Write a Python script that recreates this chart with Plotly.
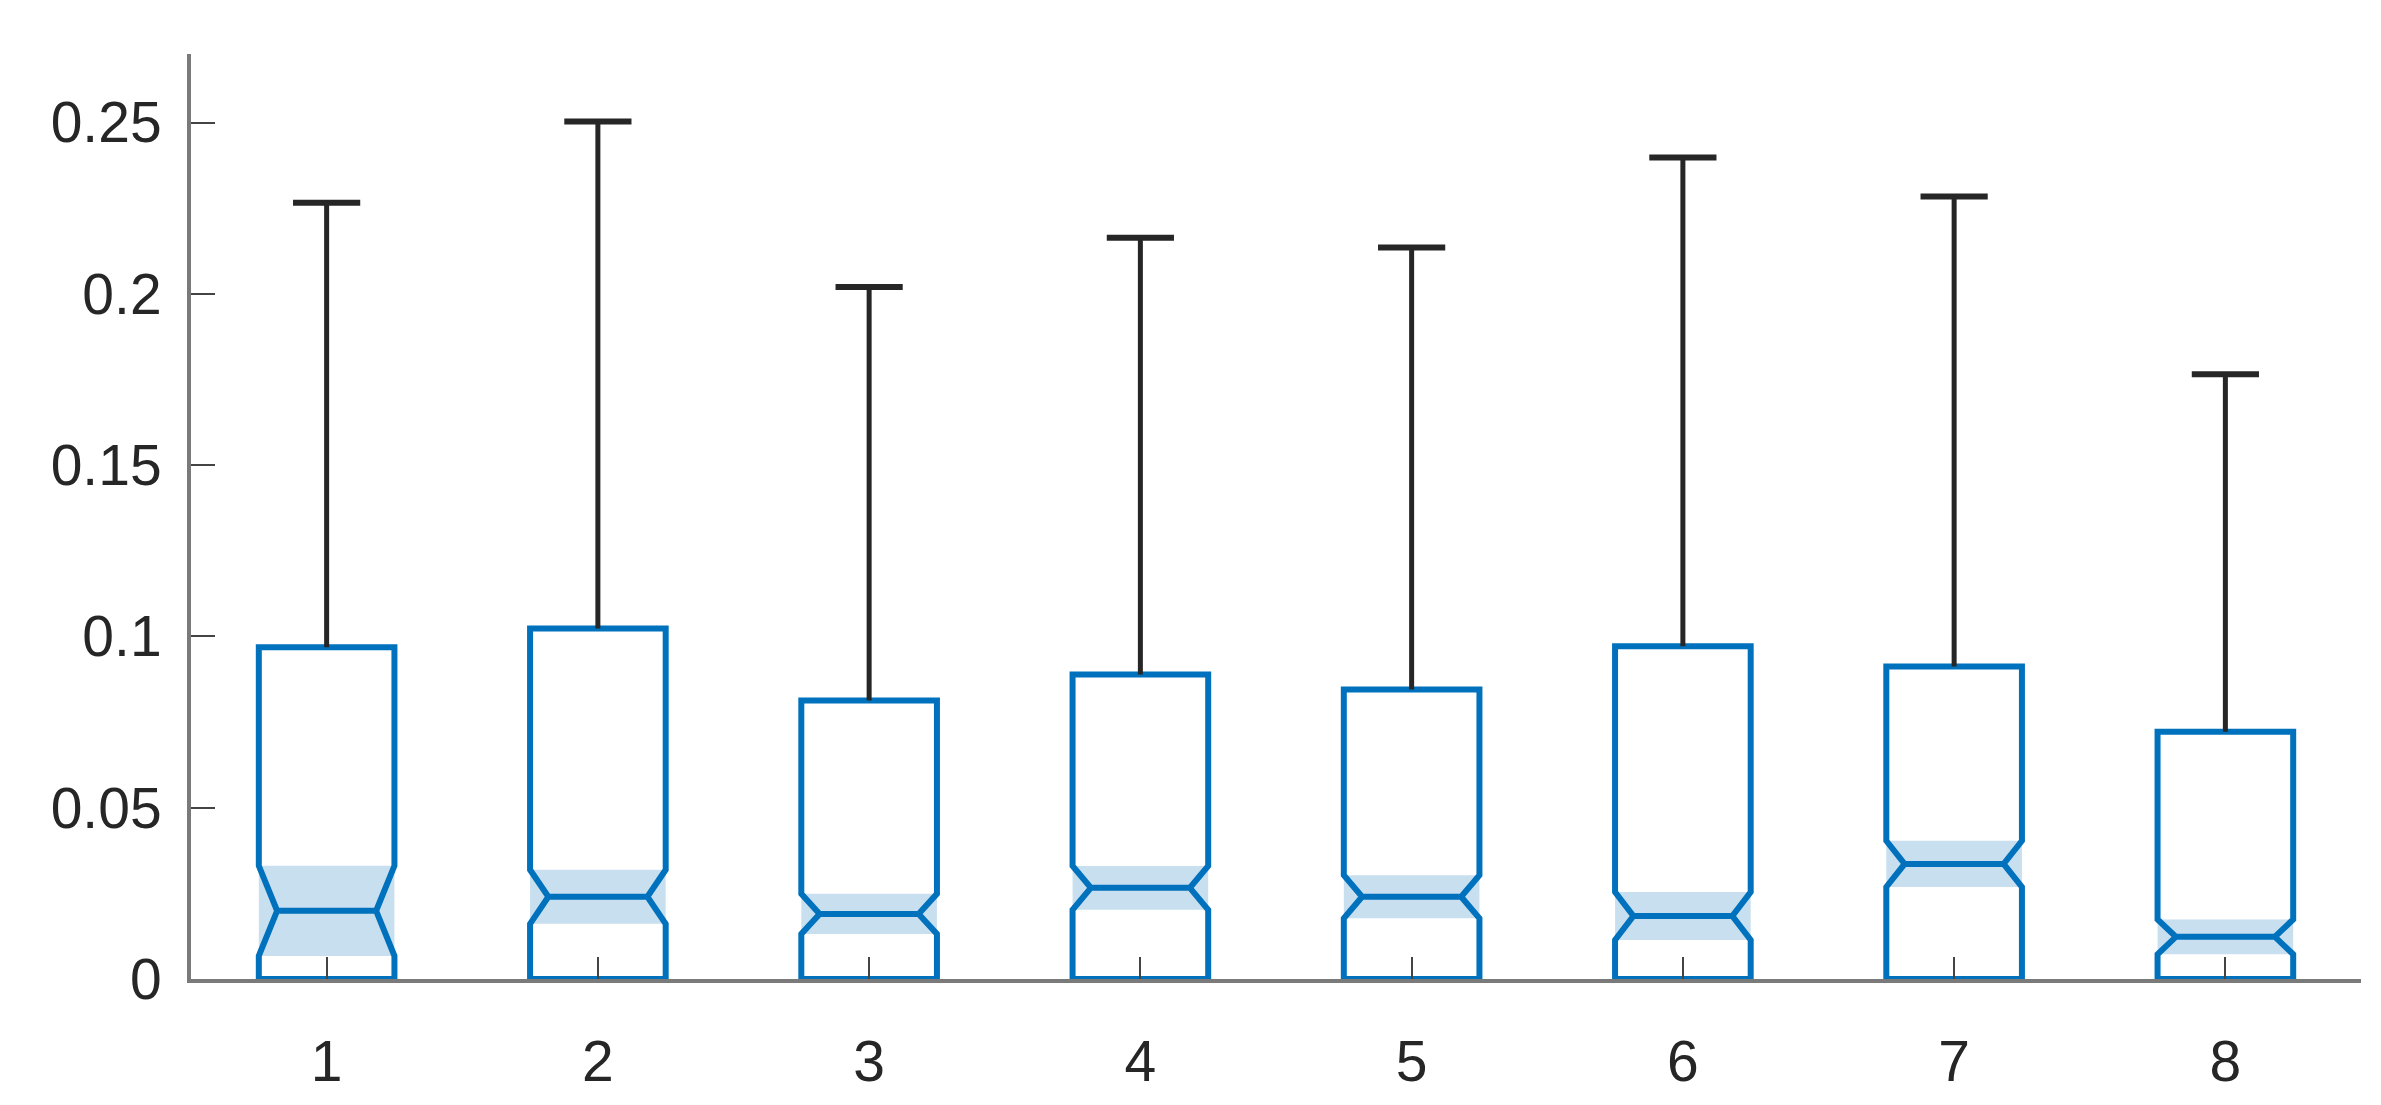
import plotly.graph_objects as go

# groups on the x axis
groups = [1, 2, 3, 4, 5, 6, 7, 8]

# box statistics
q1 = [0, 0, 0, 0, 0, 0, 0, 0]
medians = [0.0199, 0.0240, 0.0190, 0.0266, 0.0240, 0.0184, 0.0336, 0.0123]
q3 = [0.0968, 0.1023, 0.0813, 0.0889, 0.0845, 0.0971, 0.0912, 0.0722]
upper_whisker = [0.2266, 0.2503, 0.2020, 0.2164, 0.2135, 0.2398, 0.2284, 0.1765]
notch_low = [0.0067, 0.0164, 0.0131, 0.0202, 0.0178, 0.0117, 0.0266, 0.0073]
notch_high = [0.0330, 0.0322, 0.0248, 0.0330, 0.0304, 0.0257, 0.0401, 0.0175]

y_tickvals = [0, 0.05, 0.1, 0.15, 0.2, 0.25]
y_ticktext = ["0", "0.05", "0.1", "0.15", "0.2", "0.25"]

BLUE = "#0072BD"
SHADE = "#c8dff0"
DARK = "#262626"

notch_span = [(h - l) / 2 for h, l in zip(notch_high, notch_low)]

fig = go.Figure()

# shaded band over the notch interval (full box width)
fig.add_trace(go.Bar(
    x=groups,
    y=[2 * s for s in notch_span],
    base=[m - s for m, s in zip(medians, notch_span)],
    width=0.5,
    marker=dict(color=SHADE, line=dict(width=0)),
    hoverinfo="skip",
))

# notched box outlines
fig.add_trace(go.Box(
    x=groups,
    q1=q1,
    median=medians,
    q3=q3,
    lowerfence=q1,
    upperfence=q3,
    notched=True,
    notchspan=notch_span,
    notchwidth=0.135,
    width=0.5,
    whiskerwidth=0,
    boxpoints=False,
    fillcolor="rgba(0,0,0,0)",
    line=dict(color=BLUE, width=6),
    hoverinfo="skip",
))

# black upper whiskers with caps
fig.add_trace(go.Scatter(
    x=groups,
    y=upper_whisker,
    mode="markers",
    marker=dict(symbol="line-ew", size=48, color=DARK, line=dict(width=6, color=DARK)),
    error_y=dict(
        type="data", symmetric=False,
        array=[0] * len(groups),
        arrayminus=[w - q for w, q in zip(upper_whisker, q3)],
        width=0, thickness=5, color=DARK,
    ),
    hoverinfo="skip",
))

fig.update_layout(
    width=2381,
    height=1105,
    showlegend=False,
    plot_bgcolor="white",
    paper_bgcolor="white",
    margin=dict(l=183, r=28, t=46, b=134),
    font=dict(family="Liberation Sans, Arial, sans-serif", size=57, color=DARK),
    xaxis=dict(
        range=[0.5, 8.5],
        tickvals=groups,
        ticks="inside", ticklen=22, tickwidth=2, tickcolor="#444444",
        showline=True, linecolor="#7a7a7a", linewidth=4,
        showgrid=False, zeroline=False,
        ticklabelstandoff=30,
    ),
    yaxis=dict(
        range=[0, 0.27],
        tickvals=y_tickvals,
        ticktext=y_ticktext,
        ticks="inside", ticklen=24, tickwidth=2, tickcolor="#444444",
        showline=True, linecolor="#7a7a7a", linewidth=4,
        showgrid=False, zeroline=False,
        ticklabelstandoff=14,
    ),
)

fig.write_html("out.html")
